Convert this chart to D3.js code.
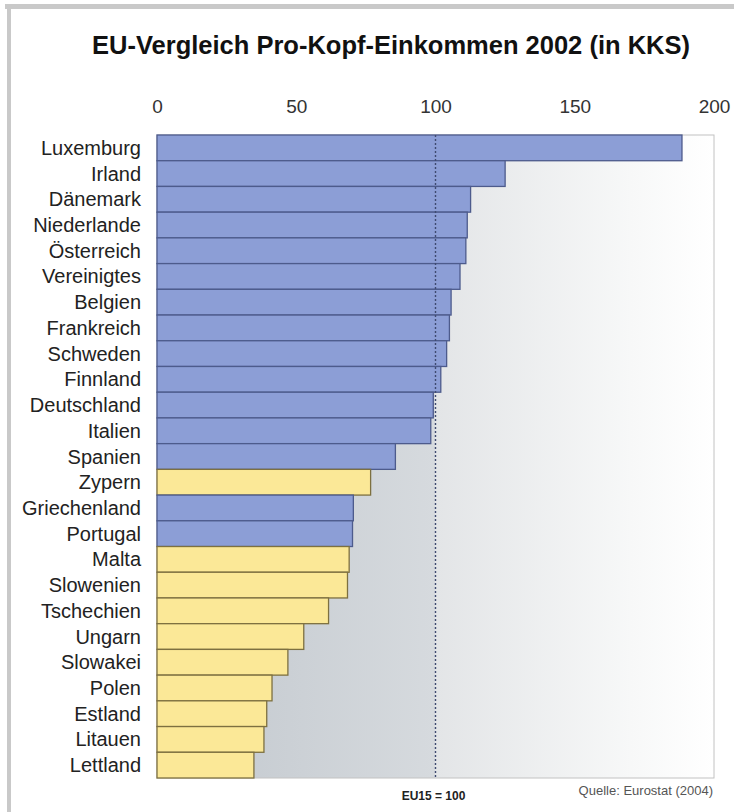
<!DOCTYPE html>
<html>
<head>
<meta charset="utf-8">
<script src="https://cdn.jsdelivr.net/npm/d3@7"></script>
<style>
  body { margin: 0; background: #fff; }
  svg { display: block; font-family: "Liberation Sans", Arial, sans-serif; }
</style>
</head>
<body>
<div id="chart"></div>
<script>
// Pro-Kopf-Einkommen 2002 in KKS, EU15 = 100
var countries = ["Luxemburg", "Irland", "Dänemark", "Niederlande", "Österreich", "Vereinigtes",
  "Belgien", "Frankreich", "Schweden", "Finnland", "Deutschland", "Italien", "Spanien",
  "Zypern", "Griechenland", "Portugal", "Malta", "Slowenien", "Tschechien", "Ungarn",
  "Slowakei", "Polen", "Estland", "Litauen", "Lettland"];
var values = [188.5, 125, 112.6, 111.4, 110.9, 108.8, 105.6, 105, 104, 101.9, 99.2, 98.3, 85.6,
  76.7, 70.5, 70.2, 69, 68.4, 61.6, 52.7, 47, 41.3, 39.4, 38.4, 34.8];
// true = EU15 Mitglied, false = Beitrittsland
var isEU15 = [true, true, true, true, true, true, true, true, true, true, true, true, true,
  false, true, true, false, false, false, false, false, false, false, false, false];
var xTicks = [0, 50, 100, 150, 200];

var width = 734, height = 812;
var plotLeft = 157, plotRight = 714, plotTop = 135, plotBottom = 778;

var data = countries.map(function(c, i) {
  return { name: c, value: values[i], eu15: isEU15[i] };
});

var svg = d3.select("#chart").append("svg")
  .attr("width", width)
  .attr("height", height);

// frame edges
svg.append("rect").attr("x", 5).attr("y", 4).attr("width", width - 5).attr("height", 5).attr("fill", "#c9c9c9");
svg.append("rect").attr("x", 7).attr("y", 4).attr("width", 4).attr("height", height - 4).attr("fill", "#c9c9c9");

var x = d3.scaleLinear().domain([0, 200]).range([plotLeft, plotRight]);
var y = d3.scaleBand().domain(countries).range([plotTop, plotBottom]).padding(0);

// background gradient
var defs = svg.append("defs");
var grad = defs.append("linearGradient").attr("id", "bg").attr("x1", 0).attr("x2", 1).attr("y1", 0).attr("y2", 0);
grad.append("stop").attr("offset", "0%").attr("stop-color", "#c1c7cd");
grad.append("stop").attr("offset", "50%").attr("stop-color", "#d6dade");
grad.append("stop").attr("offset", "50%").attr("stop-color", "#e3e5e7");
grad.append("stop").attr("offset", "85%").attr("stop-color", "#f7f8f8");
grad.append("stop").attr("offset", "100%").attr("stop-color", "#ffffff");

svg.append("rect")
  .attr("x", plotLeft).attr("y", plotTop)
  .attr("width", plotRight - plotLeft).attr("height", plotBottom - plotTop)
  .attr("fill", "url(#bg)")
  .attr("stroke", "#c2c2c2")
  .attr("stroke-width", 1);

// title
svg.append("text")
  .attr("x", 391).attr("y", 54)
  .attr("text-anchor", "middle")
  .style("font-size", "25.5px")
  .style("font-weight", "bold")
  .attr("fill", "#111")
  .text("EU-Vergleich Pro-Kopf-Einkommen 2002 (in KKS)");

// top axis
var axis = svg.append("g")
  .attr("transform", "translate(0," + plotTop + ")")
  .call(d3.axisTop(x).tickValues(xTicks).tickSize(0).tickPadding(22));
axis.select(".domain").remove();
axis.selectAll("text")
  .style("font-size", "19px")
  .style("font-family", "\"Liberation Sans\", Arial, sans-serif")
  .attr("fill", "#333");

// bars
svg.selectAll("rect.bar")
  .data(data)
  .enter()
  .append("rect")
  .attr("class", "bar")
  .attr("x", x(0))
  .attr("y", function(d) { return y(d.name); })
  .attr("width", function(d) { return x(d.value) - x(0); })
  .attr("height", y.bandwidth())
  .attr("fill", function(d) { return d.eu15 ? "#8c9ed6" : "#fbe897"; })
  .attr("stroke", function(d) { return d.eu15 ? "#4d5b8c" : "#7d7040"; })
  .attr("stroke-width", 1.3);

// EU15 = 100 line
svg.append("line")
  .attr("x1", x(100)).attr("x2", x(100))
  .attr("y1", plotTop).attr("y2", plotBottom)
  .attr("stroke", "#3f4a70")
  .attr("stroke-width", 1.4)
  .attr("stroke-dasharray", "2,2");

// country labels
svg.selectAll("text.label")
  .data(data)
  .enter()
  .append("text")
  .attr("class", "label")
  .attr("x", 141)
  .attr("y", function(d) { return y(d.name) + y.bandwidth() / 2 + 7; })
  .attr("text-anchor", "end")
  .style("font-size", "20px")
  .attr("fill", "#222")
  .text(function(d) { return d.name; });

// footnotes
svg.append("text")
  .attr("x", x(100) - 2).attr("y", 800)
  .attr("text-anchor", "middle")
  .style("font-size", "12px")
  .style("font-weight", "bold")
  .attr("fill", "#222")
  .text("EU15 = 100");

svg.append("text")
  .attr("x", 713).attr("y", 795)
  .attr("text-anchor", "end")
  .style("font-size", "13px")
  .attr("fill", "#555")
  .text("Quelle: Eurostat (2004)");
</script>
</body>
</html>
